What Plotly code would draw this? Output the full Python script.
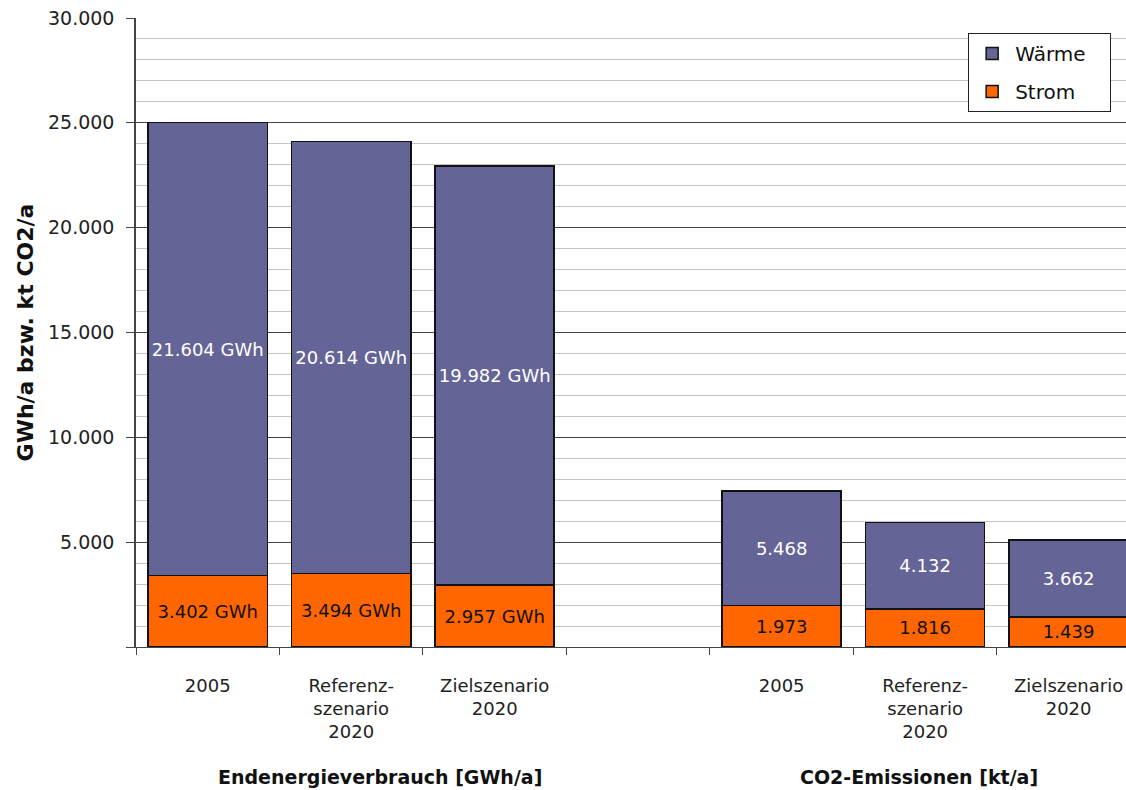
import plotly.graph_objects as go

categories = ["2005", "Referenz-<br>szenario<br>2020", "Zielszenario<br>2020", "",
              "2005", "Referenz-<br>szenario<br>2020", "Zielszenario<br>2020"]
strom = [3402, 3494, 2957, None, 1973, 1816, 1439]
waerme = [21604, 20614, 19982, None, 5468, 4132, 3662]
units = [" GWh", " GWh", " GWh", "", "", "", ""]
series_names = ["Strom", "Wärme"]
group_labels = ["Endenergieverbrauch [GWh/a]", "CO2-Emissionen [kt/a]"]
y_tickvals = [0, 5000, 10000, 15000, 20000, 25000, 30000]
y_ticktext = ["", "5.000", "10.000", "15.000", "20.000", "25.000", "30.000"]

xpos = list(range(len(categories)))
FONT = "DejaVu Sans"
PAD = "\u00a0\u00a0\u00a0"


def fmt(v, u):
    if v is None:
        return ""
    return f"{v:,d}".replace(",", ".") + u


fig = go.Figure()
fig.add_trace(go.Bar(
    x=xpos, y=strom, name=series_names[0] + PAD, legendgroup="s", legendrank=2,
    marker=dict(color="#FF6600", line=dict(color="#111111", width=1.5)),
    text=[fmt(v, u) for v, u in zip(strom, units)],
    textposition="inside", insidetextanchor="middle", textangle=0,
    textfont=dict(family=FONT, size=18, color="#111111"),
    hoverinfo="skip",
))
fig.add_trace(go.Bar(
    x=xpos, y=waerme, name=series_names[1] + PAD, legendgroup="w", legendrank=1,
    marker=dict(color="#646496", line=dict(color="#111111", width=1.5)),
    text=[fmt(v, u) for v, u in zip(waerme, units)],
    textposition="inside", insidetextanchor="middle", textangle=0,
    textfont=dict(family=FONT, size=18, color="white"),
    hoverinfo="skip",
))

fig.update_layout(
    width=1126, height=790,
    margin=dict(l=136, r=0, t=18, b=143),
    barmode="stack", bargap=0.17,
    plot_bgcolor="white", paper_bgcolor="white",
    separators=",.",
    font=dict(family=FONT, size=18, color="#222222"),
    uniformtext=dict(minsize=18, mode="show"),
    legend=dict(
        x=0.985, y=0.976, xanchor="right", yanchor="top",
        bgcolor="white", bordercolor="#222222", borderwidth=1,
        font=dict(family=FONT, size=20, color="#111111"),
        traceorder="grouped", tracegroupgap=9, itemwidth=36,
    ),
    showlegend=True,
)

fig.update_xaxes(
    range=[-0.5, 6.4],
    tickmode="array", tickvals=xpos, ticktext=categories,
    ticks="outside", ticklen=22, tickcolor="rgba(0,0,0,0)",
    showgrid=False, zeroline=False,
    showline=True, linecolor="#444444", linewidth=1,
    tickfont=dict(family=FONT, size=18, color="#222222"),
    minor=dict(tick0=0.5, dtick=1, ticks="outside", ticklen=7,
               tickcolor="#444444", tickwidth=1, showgrid=False),
)

fig.update_yaxes(
    range=[0, 30000], tickmode="array", tickvals=y_tickvals, ticktext=y_ticktext,
    ticks="outside", ticklen=8, tickcolor="#444444",
    showgrid=True, gridcolor="#444444", gridwidth=1,
    zeroline=False,
    showline=True, linecolor="#444444", linewidth=1.5,
    ticklabelstandoff=8,
    tickfont=dict(family=FONT, size=19, color="#222222"),
    minor=dict(tickmode="linear", tick0=0, dtick=1000, showgrid=True,
               gridcolor="#c4c4c4", gridwidth=1, ticks=""),
    title=dict(text="<b>GWh/a bzw. kt CO2/a</b>", standoff=8,
               font=dict(family=FONT, size=22, color="#111111")),
)

fig.add_annotation(x=1.2, y=-0.207, xref="x", yref="paper", yanchor="middle",
                   text="<b>" + group_labels[0] + "</b>",
                   showarrow=False, font=dict(family=FONT, size=19, color="#111111"))
fig.add_annotation(x=4.96, y=-0.207, xref="x", yref="paper", yanchor="middle",
                   text="<b>" + group_labels[1] + "</b>",
                   showarrow=False, font=dict(family=FONT, size=19, color="#111111"))

fig.write_html("out.html", config={"displayModeBar": False},
               post_script="document.body.style.margin='0';")
